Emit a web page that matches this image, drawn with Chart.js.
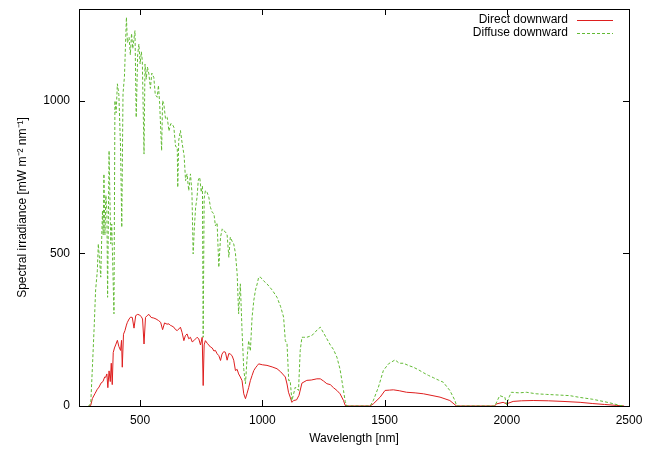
<!DOCTYPE html>
<html>
<head>
<meta charset="utf-8">
<script src="https://cdn.jsdelivr.net/npm/chart.js@4.4.0/dist/chart.umd.min.js"></script>
<style>
  body { margin: 0; background: #fff; }
</style>
</head>
<body>
<canvas id="spectrumChart" width="653" height="449"></canvas>
<script>
// wavelengths [nm] and spectral irradiance [mW m-2 nm-1]
const directNm = [291, 298, 305, 315, 325, 332, 340, 348, 355, 359, 364, 368, 373, 378, 382, 386, 390, 395, 400, 407,
  413, 420, 424, 427, 432, 438, 444, 448, 455, 461, 468, 475, 482, 490, 498, 505, 510, 516, 522, 529,
  536, 545, 556, 565, 575, 584, 592, 600, 610, 618, 624, 630, 638, 645, 652, 658, 665, 672, 679, 685,
  692, 699, 706, 713, 720, 727, 733, 740, 747, 754, 758, 762, 767, 775, 788, 795, 802, 808, 815, 822,
  829, 835, 842, 849, 856, 863, 869, 876, 883, 890, 897, 903, 910, 917, 924, 931, 937, 944, 951, 958,
  965, 972, 979, 985, 1000, 1019, 1040, 1060, 1075, 1094, 1101, 1107, 1114, 1121, 1128, 1140, 1150, 1162, 1182, 1200,
  1223, 1237, 1250, 1264, 1278, 1291, 1305, 1318, 1332, 1339, 1346, 1440, 1454, 1482, 1502, 1520, 1536, 1560, 1590, 1625,
  1659, 1690, 1727, 1767, 1788, 1795, 1950, 1958, 1985, 1999, 2026, 2060, 2108, 2170, 2230, 2300, 2352, 2400, 2448, 2480];
const directVal = [0, 2, 25, 40, 55, 62, 75, 80, 95, 94, 105, 60, 115, 80, 140, 70, 175, 190, 200, 215,
  195, 182, 215, 127, 235, 247, 265, 274, 285, 291, 290, 255, 296, 300, 298, 292, 285, 203, 290, 296,
  300, 290, 288, 285, 280, 274, 250, 272, 268, 269, 264, 262, 258, 250, 247, 252, 258, 240, 214, 230,
  236, 220, 225, 210, 214, 220, 225, 220, 200, 225, 67, 200, 214, 205, 193, 190, 180, 182, 171, 165,
  149, 170, 178, 176, 150, 172, 170, 165, 150, 116, 120, 105, 95, 83, 40, 24, 40, 60, 83, 100,
  116, 125, 132, 138, 135, 133, 128, 122, 112, 95, 72, 45, 29, 12, 18, 20, 35, 75, 84, 85,
  89, 89, 82, 73, 70, 60, 51, 40, 18, 2, 0, 0, 7, 29, 51, 52, 53, 50, 45, 43,
  40, 35, 29, 18, 4, 0, 0, 7, 12, 7, 15, 17, 18, 17, 15, 12, 8, 5, 2, 0];

const diffuseNm = [288, 298, 305, 312, 318, 325, 329, 334, 339, 343, 346, 349, 352, 356, 360, 364, 367, 373, 380, 384,
  393, 397, 402, 407, 413, 420, 425, 430, 436, 444, 448, 455, 460, 465, 470, 479, 484, 490, 495, 500,
  505, 509, 516, 520, 525, 530, 536, 542, 548, 556, 562, 570, 575, 580, 588, 592, 597, 604, 611, 618,
  625, 631, 638, 645, 652, 654, 658, 665, 672, 680, 686, 692, 699, 706, 712, 717, 722, 727, 733, 738,
  744, 750, 755, 758, 762, 767, 774, 781, 788, 795, 802, 808, 815, 822, 829, 836, 842, 849, 856, 863,
  869, 876, 883, 890, 897, 903, 910, 917, 924, 931, 937, 944, 951, 958, 965, 972, 979, 985, 992, 1005,
  1019, 1040, 1060, 1075, 1087, 1094, 1101, 1108, 1114, 1121, 1128, 1135, 1148, 1155, 1162, 1169, 1182, 1200, 1210, 1225,
  1237, 1250, 1264, 1278, 1291, 1305, 1318, 1332, 1339, 1346, 1441, 1454, 1475, 1495, 1516, 1543, 1560, 1577, 1600, 1618,
  1640, 1659, 1680, 1699, 1720, 1740, 1767, 1788, 1795, 1951, 1971, 1985, 1992, 1999, 2010, 2019, 2050, 2080, 2120, 2162,
  2210, 2257, 2300, 2352, 2400, 2434, 2461, 2480];
const diffuseVal = [0, 7, 130, 258, 380, 443, 531, 480, 422, 553, 640, 560, 760, 560, 690, 640, 356, 836, 531, 596,
  302, 1000, 960, 1055, 1020, 847, 585, 1022, 1080, 1273, 1190, 1207, 1150, 1220, 1170, 1229, 945, 1150, 1185, 1120,
  1160, 1131, 825, 1120, 1070, 1110, 1087, 1040, 1090, 1076, 1020, 1011, 1050, 990, 836, 1000, 989, 940, 945, 900,
  924, 924, 913, 850, 847, 716, 870, 902, 860, 820, 738, 760, 705, 760, 700, 498, 585, 650, 684, 740,
  749, 700, 720, 225, 680, 705, 700, 684, 650, 634, 630, 590, 600, 454, 553, 580, 574, 570, 560, 487,
  553, 540, 531, 500, 433, 302, 400, 247, 120, 73, 150, 214, 180, 290, 345, 380, 400, 422, 422, 410,
  400, 380, 356, 325, 291, 214, 204, 83, 83, 18, 40, 62, 51, 182, 225, 225, 225, 230, 236, 250,
  258, 240, 220, 200, 185, 160, 120, 51, 15, 0, 0, 18, 62, 116, 138, 151, 140, 140, 132, 127,
  118, 109, 100, 93, 85, 78, 51, 18, 0, 0, 34, 30, 29, 5, 30, 45, 43, 45, 40, 38,
  36, 34, 28, 22, 14, 8, 2, 0];

const xTicks = [500, 1000, 1500, 2000, 2500];
const yTicks = [0, 500, 1000];
const seriesNames = ['Direct downward', 'Diffuse downward'];

const redLine = 'rgb(222, 30, 30)';
const greenLine = 'rgb(98, 186, 52)';
const fontFamily = '"Liberation Sans", Arial, sans-serif';

function toPoints(xs, ys) {
    return xs.map((x, i) => ({ x: x, y: ys[i] }));
}

// gnuplot-like frame: box border, inward ticks on all four sides, legend top right
const framePlugin = {
    id: 'frame',
    afterDraw(chart) {
        const ctx = chart.ctx;
        const a = chart.chartArea;
        const xs = chart.scales.x;
        const ys = chart.scales.y;
        ctx.save();
        ctx.strokeStyle = '#000';
        ctx.lineWidth = 1;
        ctx.beginPath();
        xTicks.forEach(t => {
            const px = Math.round(xs.getPixelForValue(t)) + 0.5;
            ctx.moveTo(px, a.bottom); ctx.lineTo(px, a.bottom - 6);
            ctx.moveTo(px, a.top); ctx.lineTo(px, a.top + 6);
        });
        yTicks.forEach(t => {
            const py = Math.round(ys.getPixelForValue(t)) + 0.5;
            ctx.moveTo(a.left, py); ctx.lineTo(a.left + 6, py);
            ctx.moveTo(a.right, py); ctx.lineTo(a.right - 6, py);
        });
        ctx.stroke();
        ctx.strokeRect(Math.round(a.left) + 0.5, Math.round(a.top) + 0.5,
            Math.round(a.right - a.left), Math.round(a.bottom - a.top));

        // legend
        ctx.font = '12px ' + fontFamily;
        ctx.fillStyle = '#000';
        ctx.textAlign = 'right';
        ctx.textBaseline = 'middle';
        const rows = [
            { y: 20, color: redLine, dash: [] },
            { y: 33, color: greenLine, dash: [3, 2] }
        ];
        rows.forEach((r, i) => {
            ctx.fillText(seriesNames[i], 568, r.y);
            ctx.beginPath();
            ctx.setLineDash(r.dash);
            ctx.strokeStyle = r.color;
            ctx.moveTo(577, r.y + 0.5);
            ctx.lineTo(613, r.y + 0.5);
            ctx.stroke();
        });
        ctx.restore();
    }
};

const ctx = document.getElementById('spectrumChart').getContext('2d');

new Chart(ctx, {
    type: 'line',
    data: {
        datasets: [
            {
                label: seriesNames[0],
                data: toPoints(directNm, directVal),
                borderColor: redLine,
                borderWidth: 1,
                pointRadius: 0,
                tension: 0,
                order: 1
            },
            {
                label: seriesNames[1],
                data: toPoints(diffuseNm, diffuseVal),
                borderColor: greenLine,
                borderWidth: 1,
                borderDash: [3, 2],
                pointRadius: 0,
                tension: 0,
                order: 0
            }
        ]
    },
    options: {
        responsive: false,
        animation: false,
        layout: { padding: { top: 9, right: 24, left: 0, bottom: 0 } },
        plugins: {
            legend: { display: false },
            tooltip: { enabled: false }
        },
        scales: {
            x: {
                type: 'linear',
                min: 250,
                max: 2500,
                afterBuildTicks: s => { s.ticks = xTicks.map(v => ({ value: v })); },
                afterFit: s => { s.height = 43; s.paddingLeft = 0; s.paddingRight = 0; },
                grid: { display: false, drawTicks: false },
                border: { display: false },
                ticks: {
                    color: '#000',
                    padding: 7,
                    maxRotation: 0,
                    callback: v => String(v),
                    font: { family: fontFamily, size: 12 }
                },
                title: {
                    display: true,
                    text: 'Wavelength [nm]',
                    color: '#000',
                    padding: { top: 2, bottom: 3 },
                    font: { family: fontFamily, size: 12 }
                }
            },
            y: {
                min: 0,
                max: 1300,
                afterBuildTicks: s => { s.ticks = yTicks.map(v => ({ value: v })); },
                afterFit: s => { s.width = 79; s.paddingTop = 0; s.paddingBottom = 0; },
                grid: { display: false, drawTicks: false },
                border: { display: false },
                ticks: {
                    color: '#000',
                    padding: 9,
                    callback: v => String(v),
                    font: { family: fontFamily, size: 12 }
                },
                title: {
                    display: true,
                    text: 'Spectral irradiance [mW m⁻² nm⁻¹]',
                    color: '#000',
                    padding: { top: 15, bottom: 0 },
                    font: { family: fontFamily, size: 12 }
                }
            }
        }
    },
    plugins: [framePlugin]
});
</script>
</body>
</html>
